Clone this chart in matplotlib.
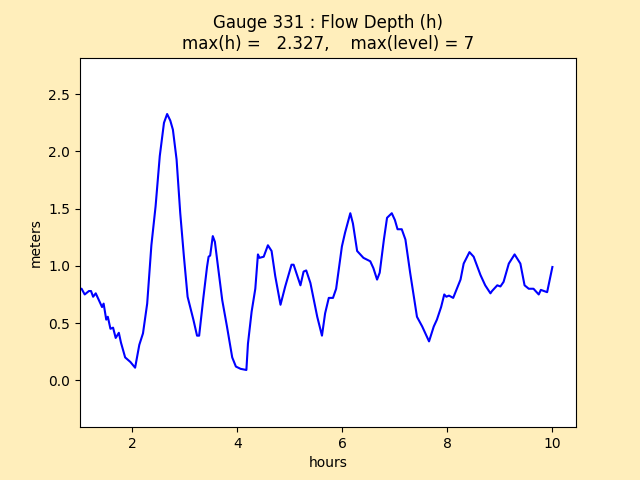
import matplotlib
matplotlib.use('Agg')
import matplotlib.pyplot as plt

# time (hours) and flow depth (m)
hours = [1.00, 1.03, 1.09, 1.17, 1.21, 1.25, 1.30, 1.36, 1.42, 1.45, 1.50, 1.53,
         1.58, 1.63, 1.68, 1.74, 1.78, 1.86, 1.96, 2.05, 2.13, 2.20, 2.28, 2.36,
         2.44, 2.52, 2.60, 2.66, 2.72, 2.77, 2.84, 2.91, 2.98, 3.05, 3.16, 3.23,
         3.27, 3.35, 3.42, 3.45, 3.48, 3.53, 3.57, 3.63, 3.71, 3.80, 3.90, 3.97,
         4.06, 4.17, 4.20, 4.27, 4.34, 4.39, 4.42, 4.50, 4.58, 4.65, 4.72, 4.82,
         4.91, 5.03, 5.07, 5.20, 5.26, 5.31, 5.39, 5.52, 5.61, 5.67, 5.74, 5.82,
         5.88, 5.99, 6.05, 6.15, 6.20, 6.28, 6.40, 6.53, 6.59, 6.66, 6.71, 6.79,
         6.85, 6.94, 7.00, 7.05, 7.13, 7.20, 7.29, 7.42, 7.52, 7.65, 7.74, 7.80,
         7.88, 7.94, 7.98, 8.03, 8.11, 8.25, 8.31, 8.42, 8.50, 8.63, 8.72, 8.82,
         8.85, 8.95, 9.01, 9.07, 9.17, 9.28, 9.39, 9.47, 9.55, 9.64, 9.74, 9.78,
         9.90, 10.00]
depth = [0.80, 0.80, 0.75, 0.78, 0.78, 0.73, 0.76, 0.70, 0.64, 0.67, 0.53, 0.555,
         0.45, 0.46, 0.37, 0.415, 0.33, 0.20, 0.16, 0.11, 0.31, 0.41, 0.67, 1.18,
         1.52, 1.96, 2.25, 2.327, 2.27, 2.19, 1.93, 1.46, 1.08, 0.73, 0.53, 0.39,
         0.39, 0.72, 0.99, 1.08, 1.09, 1.26, 1.21, 0.99, 0.70, 0.47, 0.20, 0.12,
         0.10, 0.09, 0.32, 0.60, 0.80, 1.10, 1.07, 1.08, 1.18, 1.13, 0.91, 0.66,
         0.82, 1.01, 1.01, 0.83, 0.95, 0.96, 0.85, 0.555, 0.39, 0.585, 0.72, 0.72,
         0.80, 1.17, 1.29, 1.46, 1.37, 1.13, 1.07, 1.04, 0.98, 0.88, 0.94, 1.23,
         1.42, 1.46, 1.40, 1.32, 1.32, 1.23, 0.94, 0.555, 0.47, 0.34, 0.47, 0.53,
         0.64, 0.75, 0.73, 0.74, 0.72, 0.88, 1.02, 1.12, 1.08, 0.92, 0.83, 0.76,
         0.78, 0.83, 0.82, 0.86, 1.02, 1.10, 1.02, 0.83, 0.80, 0.80, 0.75, 0.79,
         0.77, 0.99]

gaugeno = 331
max_level = 7

fig = plt.figure(figsize=(6.4, 4.8), facecolor='#ffeebb')
ax = fig.add_subplot(111)
ax.plot(hours, depth, 'b-', linewidth=1.5)
ax.set_xlim(1.0, 10.45)
ax.set_ylim(-0.41, 2.82)
ax.set_xlabel('hours')
ax.set_ylabel('meters')
ax.set_title('Gauge %i : Flow Depth (h)\nmax(h) = %7.3f,    max(level) = %i'
             % (gaugeno, max(depth), max_level))

fig.savefig('out.png', dpi=100, facecolor=fig.get_facecolor())
